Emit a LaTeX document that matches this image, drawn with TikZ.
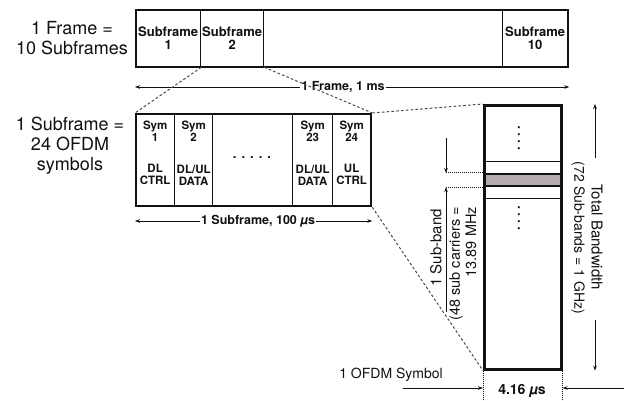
\documentclass[tikz,border=0pt]{standalone}
\usepackage{fontspec}
\setmainfont{TeX Gyre Heros}
\usetikzlibrary{arrows.meta,positioning,calc}
\definecolor{FRInk}{HTML}{111111}
\definecolor{FRBand}{HTML}{B5ACB2}
\definecolor{FRDash}{HTML}{4A4A4A}
\tikzset{
  dim/.style={-{Stealth[length=5pt,width=3.6pt]},FRInk,line width=0.9pt},
  zoomline/.style={FRDash,line width=1pt,dash pattern=on 2.6pt off 2.2pt},
  guide/.style={FRInk,line width=1pt,dash pattern=on 1pt off 1pt},
  outer/.style={draw=FRInk,line width=2.3pt,anchor=north west,inner sep=0pt},
  cell/.style={draw=FRInk,line width=1.3pt,anchor=north west,inner sep=0pt,
               align=center,text=FRInk,font=\fontsize{13}{13.5}\selectfont\bfseries},
  thin/.style={draw=FRInk,line width=1pt,anchor=north west,inner sep=0pt},
  band/.style={draw=FRInk,line width=2.2pt,fill=FRBand,anchor=north west,inner sep=0pt},
  symtxt/.style={inner sep=0pt,align=center,text=FRInk,
                 font=\fontsize{11.5}{12}\selectfont\bfseries},
  dotrow/.style={inner sep=0pt,text=FRInk,font=\fontsize{13}{13}\selectfont\bfseries},
  dimlabel/.style={inner sep=1pt,text=FRInk,font=\fontsize{12.5}{14}\selectfont\bfseries},
  sidelabel/.style={inner sep=0pt,align=center,text=FRInk,font=\fontsize{18}{20}\selectfont},
  note/.style={inner sep=0pt,text=FRInk,font=\fontsize{15}{17}\selectfont},
  smallnote/.style={inner sep=0pt,text=FRInk,font=\fontsize{14.5}{16}\selectfont},
}
\newcommand{\usym}{{\itshape µ}}

\begin{document}
\begin{tikzpicture}[x=1pt,y=-1pt]
    \useasboundingbox (0,0) rectangle (624,401);

    % one frame
    \node[sidelabel] (framelbl) at (72,38) {1 Frame =\\10 Subframes};
    \node[cell,minimum width=65pt,minimum height=57pt] (sf1) at (135,9) {Subframe\\1};
    \node[cell,minimum width=63pt,minimum height=57pt] (sf2) at (200,9) {Subframe\\2};
    \node[cell,minimum width=65pt,minimum height=57pt] (sf10) at (502,9) {Subframe\\10};
    \node[outer,minimum width=432pt,minimum height=57pt] (frame) at (135,9) {};
    \node[dimlabel] (flen) at (343,87) {1 Frame, 1 ms};
    \draw[dim] (flen.west) -- (flen.west -| frame.west);
    \draw[dim] (flen.east) -- (flen.east -| frame.east);

    % one subframe
    \node[sidelabel] (sublbl) at (70,146) {1 Subframe =\\24 OFDM\\symbols};
    \node[cell,minimum width=39pt,minimum height=92pt] (sy1) at (135,113) {};
    \node[cell,minimum width=38pt,minimum height=92pt] (sy2) at (174,113) {};
    \node[cell,minimum width=40pt,minimum height=92pt] (sy23) at (292,113) {};
    \node[cell,minimum width=38pt,minimum height=92pt] (sy24) at (332,113) {};
    \node[outer,minimum width=235pt,minimum height=92pt] (sub) at (135,113) {};
    \node[symtxt,below=8pt of sy1.north] (sy1top) {Sym\\1};
    \node[symtxt,above=21pt of sy1.south] (sy1bot) {DL\\CTRL};
    \node[symtxt,below=8pt of sy2.north] (sy2top) {Sym\\2};
    \node[symtxt,above=21pt of sy2.south] (sy2bot) {DL/UL\\DATA};
    \node[symtxt,below=8pt of sy23.north] (sy23top) {Sym\\23};
    \node[symtxt,above=21pt of sy23.south] (sy23bot) {DL/UL\\DATA};
    \node[symtxt,below=8pt of sy24.north] (sy24top) {Sym\\24};
    \node[symtxt,above=21pt of sy24.south] (sy24bot) {UL\\CTRL};
    \node[dotrow] (sydots) at (252,158)
      {.\hspace{5pt}.\hspace{5pt}.\hspace{5pt}.\hspace{5pt}.};
    \node[dimlabel] (slen) at (258,221) {1 Subframe, 100 \usym s};
    \draw[dim] (slen.west) -- (slen.west -| sub.west);
    \draw[dim] (slen.east) -- (slen.east -| sub.east);

    % one OFDM symbol across the band
    \node[thin,minimum width=77pt,minimum height=12pt] (guardup) at (483,161) {};
    \node[thin,minimum width=77pt,minimum height=13pt] (guarddn) at (483,185) {};
    \node[band,minimum width=77pt,minimum height=12pt] (band) at (483,173) {};
    \node[outer,line width=2.6pt,minimum width=77pt,minimum height=264pt] (bw) at (483,104) {};
    \node[dotrow,rotate=90] (bwdotsup) at (519,138)
      {.\hspace{3.5pt}.\hspace{3.5pt}.\hspace{3.5pt}.};
    \node[dotrow,rotate=90] (bwdotsdn) at (519,218)
      {.\hspace{3.5pt}.\hspace{3.5pt}.\hspace{3.5pt}.};

    \draw[guide] (band.north west) -- ++(-37,0) coordinate (sbtop);
    \draw[guide] (band.south west) -- ++(-37,0) coordinate (sbbot);
    \coordinate (sbtopfrom) at (446,138);
    \coordinate (sbbotfrom) at (446,312);
    \draw[dim] (sbtopfrom) -- (sbtop);
    \draw[dim] (sbbotfrom) -- (sbbot);
    \node[note,rotate=90,anchor=east] (sbname) at (436,209) {1 Sub-band};
    \node[smallnote,rotate=90,anchor=east] (sbcarr) at (456,207) {(48 sub carriers =};
    \node[smallnote,rotate=90,anchor=east] (sbmhz) at (471,207) {13.89 MHz};

    \coordinate (tbup) at (595,158);
    \coordinate (tbdn) at (595,320);
    \draw[dim] (tbup) -- (tbup |- bw.north);
    \draw[dim] (tbdn) -- (tbdn |- bw.south);
    \node[note,rotate=-90] (tbw) at (597,237) {Total Bandwidth};
    \node[smallnote,font=\fontsize{14}{16}\selectfont,rotate=-90] (tbwsub) at (578,238) {(72 Sub-bands = 1 GHz)};

    \draw[guide] (bw.south west) -- ++(0,33);
    \draw[guide] (bw.south east) -- ++(0,33);
    \coordinate (osl) at (403,388);
    \coordinate (osr) at (624,388);
    \draw[dim] (osl) -- (osl -| bw.west);
    \draw[dim] (osr) -- (osr -| bw.east);
    \node[note,font=\fontsize{14}{16}\selectfont] (symname) at (391,375) {1 OFDM Symbol};
    \node[dimlabel,font=\fontsize{14}{16}\selectfont\bfseries] (symdur) at (522,391) {4.16 \usym s};

    % zoom lines
    \draw[zoomline] (sf1.south east) -- (sub.north west);
    \draw[zoomline] (sf2.south east) -- (sub.north east);
    \draw[zoomline] (sub.north east) -- (bw.north west);
    \draw[zoomline] (sub.south east) -- (bw.south west);
  \end{tikzpicture}
\end{document}
